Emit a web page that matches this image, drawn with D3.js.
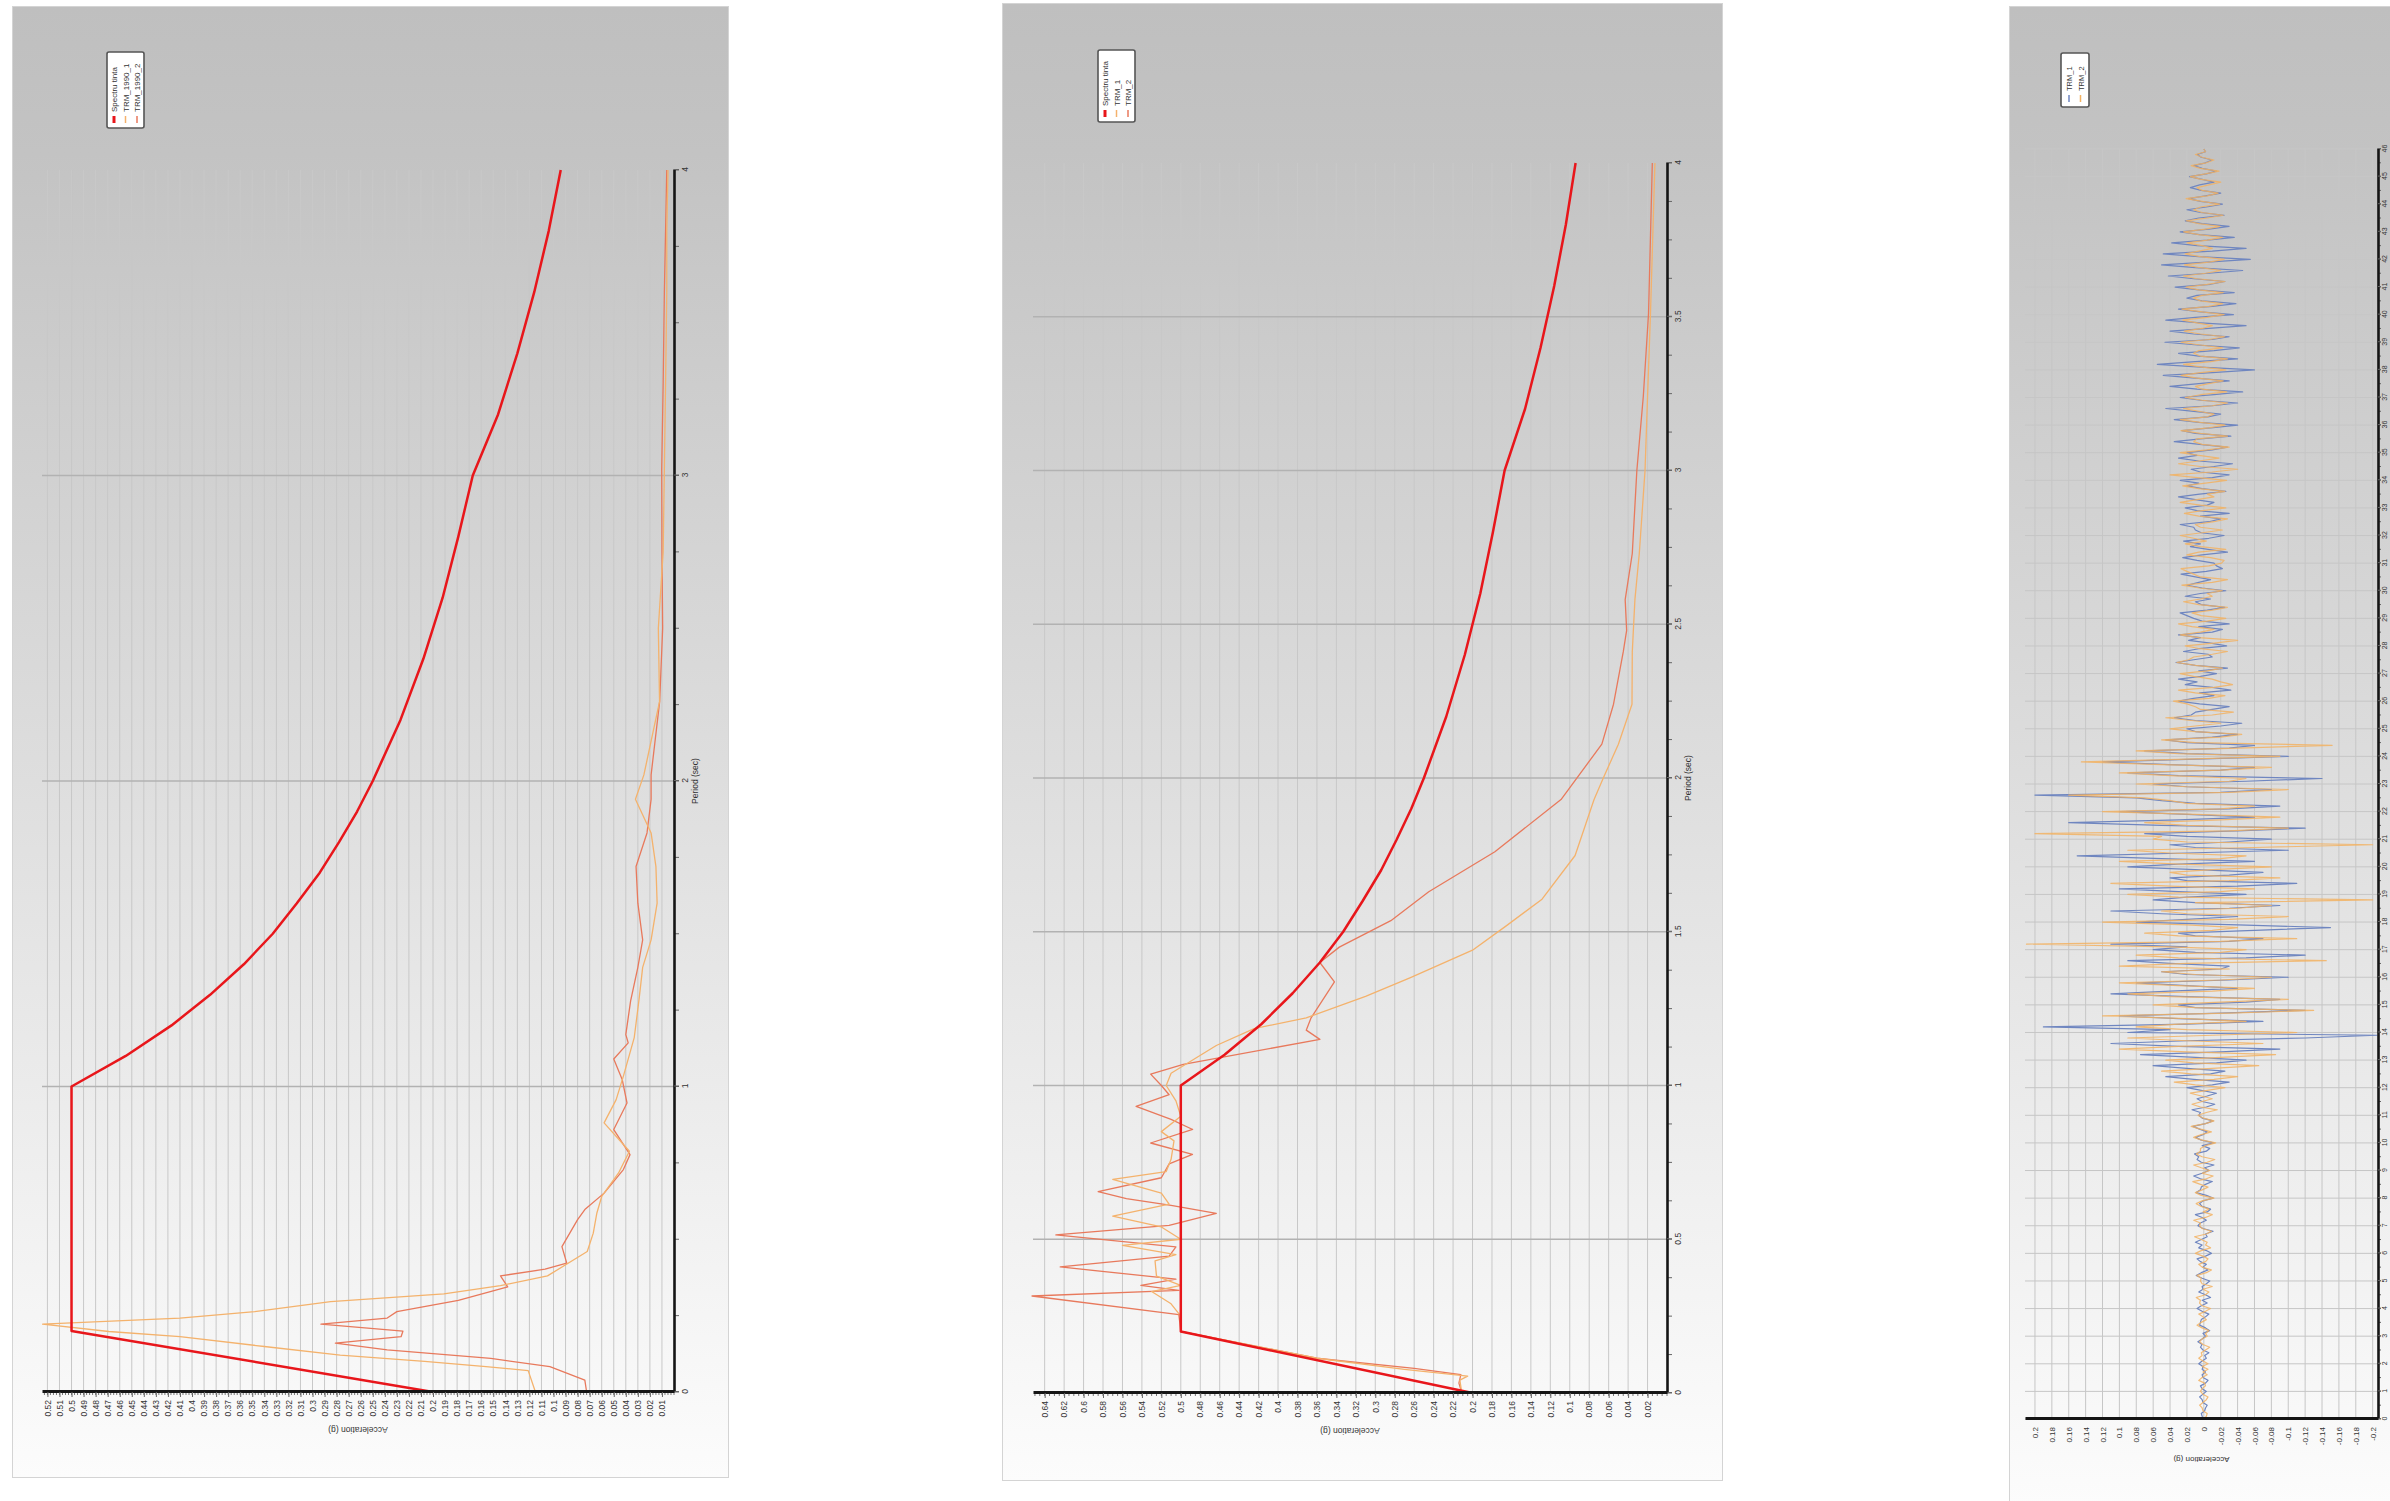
<!DOCTYPE html>
<html><head><meta charset="utf-8">
<script src="https://cdn.jsdelivr.net/npm/d3@7"></script>
<style>
html,body{margin:0;padding:0;background:#fff;}
svg{display:block;}
text{font-family:"Liberation Sans",Arial,sans-serif;fill:#333;}
</style></head><body>
<svg id="c" width="2390" height="1501"></svg>
<script>
// ---------------- DATA ----------------
// Target spectrum (same in panels 1 and 2)
const targetPeriod = [0, 0.2, 1.0, 1.1, 1.2, 1.3, 1.4, 1.5, 1.6, 1.7, 1.8, 1.9, 2.0, 2.2, 2.4, 2.6, 2.8, 3.0, 3.2, 3.4, 3.6, 3.8, 4.0];
const targetAccel  = [0.2, 0.5, 0.5, 0.455, 0.417, 0.385, 0.357, 0.333, 0.313, 0.294, 0.278, 0.263, 0.25, 0.227, 0.208, 0.192, 0.179, 0.167, 0.146, 0.13, 0.116, 0.104, 0.094];

// Panel 1 : TRM_1990_1 / TRM_1990_2 response spectra
const trm1990_1_T = [0, 0.07, 0.083, 0.1, 0.121, 0.149, 0.181, 0.198, 0.222, 0.242, 0.263, 0.296, 0.321, 0.348, 0.38, 0.46, 0.52, 0.586, 0.64, 0.717, 0.788, 0.881, 0.957, 1.034, 1.16, 1.285, 1.39, 1.48, 1.6, 1.72, 1.83, 1.94, 2.02, 2.26, 2.5, 2.75, 3.02, 3.3, 3.6, 3.8, 4.0];
const trm1990_1_A = [0.115, 0.121, 0.156, 0.207, 0.277, 0.34, 0.41, 0.469, 0.524, 0.41, 0.348, 0.285, 0.191, 0.144, 0.105, 0.072, 0.067, 0.064, 0.06, 0.046, 0.037, 0.058, 0.048, 0.042, 0.033, 0.029, 0.026, 0.019, 0.014, 0.015, 0.019, 0.032, 0.025, 0.012, 0.013, 0.009, 0.008, 0.007, 0.006, 0.006, 0.005];
const trm1990_2_T = [0, 0.039, 0.083, 0.11, 0.138, 0.16, 0.181, 0.199, 0.222, 0.242, 0.263, 0.30, 0.344, 0.38, 0.402, 0.422, 0.476, 0.564, 0.597, 0.651, 0.728, 0.777, 0.859, 0.946, 1.023, 1.09, 1.143, 1.17, 1.28, 1.39, 1.48, 1.6, 1.72, 1.83, 1.94, 2.02, 2.26, 2.5, 2.75, 3.02, 3.3, 3.6, 3.8, 4.0];
const trm1990_2_A = [0.0725, 0.074, 0.103, 0.152, 0.238, 0.281, 0.2265, 0.225, 0.293, 0.238, 0.23, 0.179, 0.138, 0.144, 0.107, 0.089, 0.093, 0.08, 0.074, 0.058, 0.042, 0.0365, 0.05, 0.039, 0.043, 0.05, 0.038, 0.04, 0.036, 0.03, 0.026, 0.03, 0.0315, 0.0224, 0.019, 0.019, 0.0119, 0.0094, 0.01, 0.0102, 0.009, 0.008, 0.007, 0.006];

// Panel 2 : TRM_1 / TRM_2 response spectra
const trm1_T = [0, 0.042, 0.055, 0.077, 0.113, 0.2, 0.25, 0.29, 0.33, 0.35, 0.38, 0.43, 0.45, 0.48, 0.5, 0.54, 0.575, 0.614, 0.65, 0.695, 0.72, 0.76, 0.82, 0.85, 0.9, 0.95, 1.0, 1.04, 1.13, 1.185, 1.22, 1.29, 1.35, 1.44, 1.52, 1.606, 1.748, 1.93, 2.0, 2.11, 2.24, 2.41, 2.48, 2.58, 2.73, 3.0, 3.24, 3.51, 4.0];
const trm1_A = [0.211, 0.213, 0.205, 0.27, 0.36, 0.5, 0.5, 0.51, 0.53, 0.5, 0.525, 0.5265, 0.505, 0.56, 0.5, 0.52, 0.57, 0.512, 0.52, 0.57, 0.515, 0.51, 0.507, 0.52, 0.5, 0.505, 0.515, 0.51, 0.4635, 0.4246, 0.371, 0.31, 0.2644, 0.2, 0.165, 0.1285, 0.0945, 0.075, 0.0655, 0.05, 0.036, 0.0357, 0.0346, 0.033, 0.0285, 0.0226, 0.02, 0.017, 0.0124];
const trm2_T = [0, 0.032, 0.06, 0.08, 0.113, 0.2, 0.255, 0.3155, 0.334, 0.35, 0.37, 0.41, 0.445, 0.475, 0.514, 0.545, 0.584, 0.61, 0.632, 0.655, 0.7, 0.745, 0.776, 0.813, 0.857, 0.89, 0.932, 0.97, 1.0, 1.037, 1.069, 1.15, 1.18, 1.22, 1.337, 1.40, 1.45, 1.536, 1.63, 1.76, 1.93, 2.11, 2.24, 2.41, 2.48, 2.58, 2.73, 3.0, 3.24, 3.51, 4.0];
const trm2_A = [0.211, 0.214, 0.212, 0.26, 0.36, 0.5, 0.502, 0.653, 0.502, 0.541, 0.505, 0.624, 0.512, 0.505, 0.6285, 0.512, 0.4635, 0.51, 0.556, 0.585, 0.52, 0.512, 0.488, 0.531, 0.4878, 0.51, 0.546, 0.512, 0.52, 0.531, 0.4974, 0.357, 0.371, 0.366, 0.342, 0.357, 0.337, 0.284, 0.245, 0.177, 0.109, 0.067, 0.055, 0.045, 0.0415, 0.043, 0.0357, 0.031, 0.0244, 0.019, 0.0151];

// Panel 3 : acceleration time histories, sampled every 0.1 s from 0 to 46 s (one row = 1 s)
const timeStep = 0.1;
const histTRM1 = [
0,0.002,0.003,-0.001,-0.002,-0.004,0.001,0.002,0.005,0.001,
-0.003,0.002,0.004,-0.002,-0.005,0.001,0.002,-0.002,0.002,0.001,
0.006,0.002,-0.003,-0.001,-0.006,0.001,0.004,0.002,0.007,0.002,
-0.002,0.001,-0.007,-0.002,0.005,0.004,0.003,-0.002,-0.006,0.002,
0.008,0.003,-0.004,0.002,-0.008,-0.002,0.006,0.001,0.002,-0.003,
-0.007,0.002,0.009,0.003,-0.005,0.001,-0.003,0.004,0.008,-0.002,
-0.009,-0.003,0.006,0.002,0.01,0.003,-0.004,-0.002,-0.011,0.001,
0.007,0.004,-0.003,0.002,0.01,-0.004,-0.008,0.002,0.005,0.001,
-0.011,-0.003,0.009,0.004,0.003,-0.002,-0.01,0.004,0.012,0.002,
-0.006,-0.001,-0.012,0.003,0.008,0.006,0.011,-0.003,-0.007,0.002,
-0.012,0.003,0.01,0.001,-0.004,0.005,0.013,-0.002,-0.011,0.002,
0.006,0.004,0.014,-0.003,-0.013,0.002,0.008,-0.004,-0.015,0.003,
0.02,-0.01,-0.03,0.012,0.045,-0.008,-0.025,0.02,0.06,-0.015,
-0.05,0.01,0.075,-0.02,-0.09,0.03,0.11,0.02,-0.12,-0.205,
0.09,0.04,0.19,0.02,-0.07,0.03,0.1,-0.02,-0.12,0.01,
0.03,-0.05,-0.09,0.02,0.11,0.04,-0.04,0.02,0.08,-0.03,
-0.1,0.02,0.05,-0.02,-0.03,0.04,0.09,-0.05,-0.12,0.01,
0.06,0.02,0.11,-0.03,-0.07,0.01,0.03,-0.06,-0.15,-0.04,
0.08,0.02,-0.04,0.05,0.11,-0.03,-0.09,0.01,0.06,0.02,
-0.05,0.03,0.1,-0.04,-0.11,0.02,0.04,-0.03,-0.07,0.01,
0.09,0.03,-0.06,0.05,0.15,0.02,-0.1,0.01,0.04,-0.03,
-0.08,0.02,0.07,-0.04,-0.12,0.05,0.16,0.03,-0.06,0.02,
0.1,-0.03,-0.09,0.01,0.05,0.08,0.2,-0.02,-0.08,0.02,
0.06,-0.05,-0.14,0.03,0.09,-0.02,-0.06,0.04,0.12,0.01,
-0.1,0.02,0.07,-0.03,-0.06,0.02,0.045,-0.01,-0.04,0.01,
0.02,-0.02,-0.045,0.01,0.035,0.015,0.01,-0.01,-0.03,0.005,
0.03,0.012,-0.012,0.005,-0.032,-0.01,0.022,0.008,0.03,0.004,
-0.015,0.006,-0.028,0.01,0.033,0.012,-0.01,-0.005,0.024,0.006,
-0.027,-0.008,0.018,0.004,0.03,-0.01,-0.022,0.006,-0.03,0.002,
0.012,0.02,0.028,-0.004,-0.025,0.003,0.01,-0.008,0.022,0.004,
-0.026,0.002,0.02,0.006,-0.008,0.01,0.027,-0.003,-0.022,-0.015,
-0.012,0.008,0.025,0.002,-0.028,-0.005,0.016,0.004,0.024,-0.006,
-0.024,0.003,0.01,0.012,0.028,-0.006,-0.02,0.004,-0.03,0.008,
0.022,-0.004,-0.012,0.01,0.03,0.005,-0.026,0.002,0.02,0.006,
0.028,-0.01,-0.03,0.004,0.015,-0.012,-0.034,0.006,0.03,0.008,
0.02,-0.01,-0.028,0.005,0.035,0.004,-0.032,0.01,0.026,-0.008,
-0.04,0.006,0.035,-0.005,-0.02,0.012,0.045,-0.01,-0.04,0.004,
0.028,-0.012,-0.046,0.008,0.04,0.006,-0.03,0.01,0.048,-0.01,
-0.06,0.004,0.055,0.01,-0.04,0.006,0.03,-0.012,-0.042,0.008,
0.046,-0.01,-0.03,0.012,0.04,-0.006,-0.05,0.004,0.045,0.01,
-0.035,0.004,0.03,-0.01,-0.038,0.002,0.02,0.008,-0.036,0.006,
0.034,-0.008,-0.025,0.012,0.042,-0.006,-0.046,0.01,0.05,-0.004,
-0.055,0.006,0.048,-0.01,-0.05,0.008,0.038,-0.004,-0.036,0.005,
0.028,-0.006,-0.03,0.002,0.022,0.006,-0.024,0.004,0.02,-0.003,
-0.022,0.004,0.018,-0.002,-0.02,0.003,0.016,0.005,-0.012,0.002,
0.017,-0.003,-0.015,0.002,0.012,-0.002,-0.01,0.003,0.008,-0.002,
0];
const histTRM2 = [
0,-0.003,-0.004,0.001,0.002,0.005,0.001,-0.003,-0.005,0.001,
0.004,0.002,-0.002,-0.001,0.006,0.002,-0.004,0.001,-0.005,0.002,
-0.005,0.001,0.006,0.002,0.003,-0.002,-0.007,0.001,0.005,0.002,
-0.004,-0.002,-0.006,0.002,0.008,0.003,-0.003,0.001,0.006,-0.002,
-0.008,0.002,0.005,0.004,0.009,-0.002,-0.006,0.001,-0.01,0.002,
0.004,0.003,0.008,-0.003,-0.009,0.002,0.006,-0.002,-0.005,0.001,
0.01,0.003,-0.008,-0.002,-0.004,0.003,0.011,-0.003,-0.009,0.002,
0.005,0.004,0.012,-0.002,-0.01,0.001,-0.006,0.003,0.009,0.002,
-0.012,0.003,0.01,0.002,-0.005,0.004,0.013,-0.003,-0.011,0.002,
-0.007,0.003,0.012,-0.004,-0.013,0.002,0.009,0.004,0.004,-0.002,
-0.014,0.002,0.012,0.003,-0.009,0.004,0.015,-0.002,-0.012,0.001,
0.007,-0.003,-0.016,0.004,0.014,0.002,-0.01,0.003,0.016,-0.004,
-0.025,0.01,0.035,-0.012,-0.04,0.015,0.05,-0.01,-0.065,0.012,
0.045,-0.02,-0.085,0.02,0.1,0.03,-0.07,0.02,0.09,-0.01,
-0.11,0.02,0.08,0.03,-0.05,0.02,0.12,-0.03,-0.13,0.01,
0.06,-0.02,-0.1,0.04,0.09,-0.01,-0.06,0.03,0.1,-0.02,
-0.08,0.01,0.05,-0.03,0.1,0.02,-0.145,0.03,0.08,-0.02,
-0.05,0.04,0.21,-0.02,-0.11,0.03,0.07,-0.01,-0.04,0.02,
0.12,-0.03,-0.1,0.02,0.05,-0.04,-0.08,0.01,-0.2,0.03,
0.09,-0.02,-0.06,0.04,0.11,-0.03,-0.09,0.02,0.04,-0.01,
-0.08,0.03,0.1,-0.02,-0.05,0.04,0.09,-0.06,-0.2,0.02,
0.06,0.05,0.2,-0.03,-0.1,0.02,0.07,-0.02,-0.09,0.01,
0.12,-0.02,-0.06,0.02,0.04,0.07,0.16,-0.03,-0.1,0.02,
0.08,-0.03,-0.05,0.04,0.1,-0.02,-0.08,0.05,0.145,0.02,
-0.09,0.03,0.08,-0.04,-0.152,0.01,0.05,-0.02,-0.045,0.01,
0.04,0.01,-0.02,0.015,0.045,-0.01,-0.035,0.004,0.01,0.02,
0.036,-0.006,-0.025,0.01,0.03,-0.012,-0.034,-0.02,-0.01,0.012,
0.028,-0.004,-0.022,0.01,0.032,0.018,0.012,-0.01,-0.028,0.004,
0.022,-0.012,-0.04,0.006,0.028,0.004,-0.012,0.014,0.03,-0.004,
-0.026,0.003,0.014,-0.01,-0.028,0.006,0.024,0.004,-0.01,-0.004,
-0.022,0.005,0.026,-0.01,-0.028,0.004,0.012,0.02,0.027,-0.006,
-0.021,-0.024,-0.008,0.02,0.006,-0.026,0.004,0.022,-0.003,0.012,
0.028,0.002,-0.022,0.004,0.01,-0.012,-0.028,0.006,0.023,0.002,
-0.026,0.004,0.028,0.008,-0.012,-0.004,-0.025,0.006,0.025,-0.002,
-0.027,0.008,0.04,-0.01,-0.04,0.004,0.03,0.006,-0.018,0.006,
0.028,-0.004,-0.03,0.002,0.012,0.008,-0.028,0.004,0.027,-0.006,
-0.025,0.004,0.028,-0.004,-0.012,0.006,0.024,-0.01,-0.028,0.002,
0.022,0.004,-0.027,0.002,0.01,-0.006,-0.023,0.008,0.027,0.004,
-0.026,0.002,0.024,-0.008,-0.028,0.004,0.012,0.006,-0.022,0.004,
0.027,-0.006,-0.025,0.004,0.023,0.002,-0.01,0.008,0.025,-0.004,
-0.024,0.002,0.026,-0.006,-0.022,0.004,0.012,0.002,-0.023,0.006,
0.021,-0.004,-0.025,0.008,0.024,-0.002,-0.02,0.004,0.023,-0.006,
-0.024,0.004,0.022,0.006,-0.01,0.002,0.02,-0.004,-0.022,0.006,
0.024,-0.002,-0.019,0.006,0.021,-0.004,-0.023,0.002,0.012,0.004,
-0.019,0.002,0.021,-0.004,-0.017,0.002,0.008,-0.006,-0.02,0.003,
0.016,-0.002,-0.018,0.004,0.015,-0.003,-0.012,0.002,0.01,-0.002,
0];

// Tick values / labels
const periodLabels1 = [0, 1, 2, 3, 4];
const periodGrid1 = [1, 2, 3];
const accelTicks1 = [0.01,0.02,0.03,0.04,0.05,0.06,0.07,0.08,0.09,0.1,0.11,0.12,0.13,0.14,0.15,0.16,0.17,0.18,0.19,0.2,0.21,0.22,0.23,0.24,0.25,0.26,0.27,0.28,0.29,0.3,0.31,0.32,0.33,0.34,0.35,0.36,0.37,0.38,0.39,0.4,0.41,0.42,0.43,0.44,0.45,0.46,0.47,0.48,0.49,0.5,0.51,0.52];
const periodLabels2 = [0, 0.5, 1, 1.5, 2, 2.5, 3, 3.5, 4];
const periodGrid2 = [0.5, 1, 1.5, 2, 2.5, 3, 3.5];
const accelTicks2 = [0.02,0.04,0.06,0.08,0.1,0.12,0.14,0.16,0.18,0.2,0.22,0.24,0.26,0.28,0.3,0.32,0.34,0.36,0.38,0.4,0.42,0.44,0.46,0.48,0.5,0.52,0.54,0.56,0.58,0.6,0.62,0.64];
const accelTicks3 = [0.2,0.18,0.16,0.14,0.12,0.1,0.08,0.06,0.04,0.02,0,-0.02,-0.04,-0.06,-0.08,-0.1,-0.12,-0.14,-0.16,-0.18,-0.2];
const timeTicks3 = [0,1,2,3,4,5,6,7,8,9,10,11,12,13,14,15,16,17,18,19,20,21,22,23,24,25,26,27,28,29,30,31,32,33,34,35,36,37,38,39,40,41,42,43,44,45,46];

const legend1 = ["Spectru tinta", "TRM_1990_1", "TRM_1990_2"];
const legend2 = ["Spectru tinta", "TRM_1", "TRM_2"];
const legend3 = ["TRM_1", "TRM_2"];

// ---------------- LAYOUT / STYLE ----------------
const RED = "#e8161b", LIGHT = "#f4b26c", SALMON = "#e8795c", BLUE = "#6f86c0", ORANGE = "#f2b262";
const fmt = d => String(+(+d).toFixed(3));

const svg = d3.select("#c");
const defs = svg.append("defs");
const grad = defs.append("linearGradient").attr("id", "bg").attr("x1", 0).attr("y1", 0).attr("x2", 0).attr("y2", 1);
grad.append("stop").attr("offset", "0").attr("stop-color", "#bfbfbf");
grad.append("stop").attr("offset", "0.1").attr("stop-color", "#c3c3c3");
grad.append("stop").attr("offset", "1").attr("stop-color", "#fcfcfc");

function frameAndGroup(f) {
  svg.append("rect").attr("x", f.x + 0.5).attr("y", f.y + 0.5).attr("width", f.w).attr("height", f.h)
    .attr("fill", "url(#bg)").attr("stroke", "#d4d4d4").attr("stroke-width", 1);
  const g = svg.append("g").attr("transform", `translate(${f.x},${f.y + f.h}) rotate(-90)`);
  return { g, U: y => f.y + f.h - y, V: x => x - f.x };
}

function legend(g, box, names, colors, widths) {
  const lg = g.append("g");
  lg.append("rect").attr("x", box.u).attr("y", box.v).attr("width", box.w).attr("height", box.h)
    .attr("rx", 2).attr("fill", "#fff").attr("stroke", "#555").attr("stroke-width", 1.6);
  names.forEach((n, i) => {
    const cy = box.v + box.pad + i * box.row;
    lg.append("line").attr("x1", box.u + 5).attr("x2", box.u + 12).attr("y1", cy).attr("y2", cy)
      .attr("stroke", colors[i]).attr("stroke-width", widths[i]);
    lg.append("text").attr("x", box.u + 16).attr("y", cy + 3).attr("font-size", box.fs).text(n);
  });
}

function styleAxis(sel, domainW) {
  sel.select(".domain").attr("stroke", "#151515").attr("stroke-width", domainW);
  sel.selectAll(".tick line").attr("stroke", "#666");
  sel.selectAll(".tick text").attr("font-size", 8.5).attr("fill", "#444").attr("font-family", "Liberation Sans, Arial, sans-serif");
}

function spectrumPanel(P) {
  const { g, U, V } = frameAndGroup(P.frame);
  const x = d3.scaleLinear().domain([0, 4]).range([U(P.t0y), U(P.t4y)]);
  const y = d3.scaleLinear().domain([0, P.aMax]).range([V(P.a0x), V(P.aMaxX)]);

  g.append("g").selectAll("line").data(P.accelTicks).join("line")
    .attr("x1", x(0)).attr("x2", x(4)).attr("y1", d => y(d)).attr("y2", d => y(d))
    .attr("stroke", "#c8c8c8").attr("stroke-width", 1);
  g.append("g").selectAll("line").data(P.periodGrid).join("line")
    .attr("x1", d => x(d)).attr("x2", d => x(d)).attr("y1", y(0)).attr("y2", y(P.aMax))
    .attr("stroke", "#b2b2b2").attr("stroke-width", 1.6);

  const line = d3.line().x(d => x(d[0])).y(d => y(d[1]));
  P.series.forEach(s => {
    g.append("path").datum(d3.zip(s.T, s.A)).attr("d", line).attr("fill", "none")
      .attr("stroke", s.color).attr("stroke-width", s.width).attr("stroke-linejoin", "round");
  });

  g.append("g").selectAll("line").data(d3.range(0, 4.0001, P.periodMinor)).join("line")
    .attr("x1", d => x(d)).attr("x2", d => x(d)).attr("y1", y(0)).attr("y2", y(0) + 5).attr("stroke", "#666");
  g.append("g").selectAll("line").data(d3.range(0, P.aMax, P.accelMinor)).join("line")
    .attr("x1", x(0)).attr("x2", x(0) - 3).attr("y1", d => y(d)).attr("y2", d => y(d)).attr("stroke", "#777");

  const ax = g.append("g").attr("transform", `translate(0,${y(0)})`)
    .call(d3.axisBottom(x).tickValues(P.periodLabels).tickFormat(fmt).tickSize(5).tickSizeOuter(0));
  styleAxis(ax, 2.6);
  const ay = g.append("g").attr("transform", `translate(${x(0)},0)`)
    .call(d3.axisLeft(y).tickValues(P.accelTicks).tickFormat(fmt).tickSize(5).tickSizeOuter(0));
  styleAxis(ay, 3);

  g.append("text").attr("x", x(2)).attr("y", y(0) + 24).attr("text-anchor", "middle").attr("font-size", 8.5).text("Period (sec)");
  g.append("text").attr("transform", `translate(${x(0) - 35},${(y(0) + y(P.aMax)) / 2}) rotate(-90)`)
    .attr("text-anchor", "middle").attr("font-size", 8.5).text("Acceleration (g)");

  legend(g, P.legendBox, P.legendNames, P.series.map(s => s.color).reverse(), [3, 1.5, 1.5]);
}

spectrumPanel({
  frame: { x: 12, y: 6, w: 716, h: 1471 },
  t0y: 1392, t4y: 170, a0x: 674, aMaxX: 42, aMax: 0.5245,
  accelTicks: accelTicks1, accelMinor: 0.0025, periodLabels: periodLabels1, periodGrid: periodGrid1, periodMinor: 0.25,
  series: [
    { T: trm1990_2_T, A: trm1990_2_A, color: SALMON, width: 1.3 },
    { T: trm1990_1_T, A: trm1990_1_A, color: LIGHT, width: 1.3 },
    { T: targetPeriod, A: targetAccel, color: RED, width: 2.5 }
  ],
  legendNames: legend1,
  legendBox: { u: 1349, v: 95, w: 76, h: 37, pad: 7, row: 11.5, fs: 8 }
});

spectrumPanel({
  frame: { x: 1002, y: 3, w: 720, h: 1477 },
  t0y: 1393, t4y: 163, a0x: 1667, aMaxX: 1033, aMax: 0.652,
  accelTicks: accelTicks2, accelMinor: 0.005, periodLabels: periodLabels2, periodGrid: periodGrid2, periodMinor: 0.125,
  series: [
    { T: trm2_T, A: trm2_A, color: SALMON, width: 1.3 },
    { T: trm1_T, A: trm1_A, color: LIGHT, width: 1.3 },
    { T: targetPeriod, A: targetAccel, color: RED, width: 2.5 }
  ],
  legendNames: legend2,
  legendBox: { u: 1358, v: 96, w: 72, h: 37, pad: 7, row: 11.5, fs: 8 }
});

(function () {
  const P = { frame: { x: 2009, y: 6, w: 440, h: 1498 }, t0y: 1419, tEndY: 149, aLowX: 2378, aHighX: 2025, aLow: -0.2063, aHigh: 0.2118, tEnd: 46 };
  const { g, U, V } = frameAndGroup(P.frame);
  const x = d3.scaleLinear().domain([0, P.tEnd]).range([U(P.t0y), U(P.tEndY)]);
  const y = d3.scaleLinear().domain([P.aLow, P.aHigh]).range([V(P.aLowX), V(P.aHighX)]);

  g.append("g").selectAll("line").data(accelTicks3).join("line")
    .attr("x1", x(0)).attr("x2", x(P.tEnd)).attr("y1", d => y(d)).attr("y2", d => y(d))
    .attr("stroke", "#c6c6c6").attr("stroke-width", 1);
  g.append("g").selectAll("line").data(timeTicks3).join("line")
    .attr("x1", d => x(d)).attr("x2", d => x(d)).attr("y1", y(P.aLow)).attr("y2", y(P.aHigh))
    .attr("stroke", "#c6c6c6").attr("stroke-width", 1);

  const line = d3.line().x((d, i) => x(i * timeStep)).y(d => y(d));
  g.append("path").datum(histTRM1).attr("d", line).attr("fill", "none").attr("stroke", BLUE).attr("stroke-width", 1.2).attr("stroke-linejoin", "round");
  g.append("path").datum(histTRM2).attr("d", line).attr("fill", "none").attr("stroke", ORANGE).attr("stroke-width", 1.2).attr("stroke-opacity", 0.85).attr("stroke-linejoin", "round");

  g.append("g").selectAll("line").data(d3.range(0, P.tEnd + 0.001, 0.5)).join("line")
    .attr("x1", d => x(d)).attr("x2", d => x(d)).attr("y1", y(P.aLow)).attr("y2", y(P.aLow) + 3).attr("stroke", "#666");
  const ax = g.append("g").attr("transform", `translate(0,${y(P.aLow)})`)
    .call(d3.axisBottom(x).tickValues(timeTicks3).tickFormat(fmt).tickSize(3).tickPadding(1).tickSizeOuter(0));
  styleAxis(ax, 2.6);
  ax.selectAll(".tick text").attr("font-size", 7);
  const ay = g.append("g").attr("transform", `translate(${x(0)},0)`)
    .call(d3.axisLeft(y).tickValues(accelTicks3).tickFormat(fmt).tickSize(0).tickPadding(8).tickSizeOuter(0));
  styleAxis(ay, 3);
  ay.selectAll(".tick text").attr("font-size", 8);

  g.append("text").attr("transform", `translate(${x(0) - 38},${(y(P.aLow) + y(P.aHigh)) / 2}) rotate(-90)`)
    .attr("text-anchor", "middle").attr("font-size", 8).text("Acceleration (g)");

  legend(g, { u: 1397, v: 52, w: 54, h: 28, pad: 8, row: 11.5, fs: 7.5 }, legend3, [BLUE, ORANGE], [1.5, 1.5]);
})();
</script>
</body></html>
